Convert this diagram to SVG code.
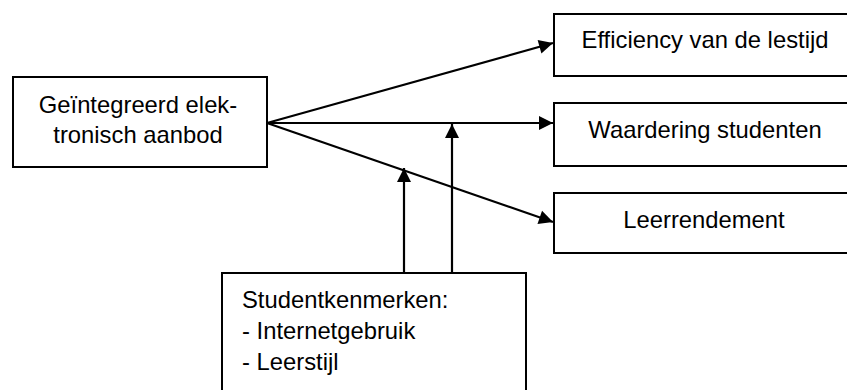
<svg xmlns="http://www.w3.org/2000/svg" width="847" height="390" viewBox="0 0 847 390">
<style>
  .box { fill: #ffffff; stroke: #000000; stroke-width: 2; }
  .lbl { font-family: "Liberation Sans", Arial, sans-serif; font-size: 23.8px; fill: #000000; }
  .mid { text-anchor: middle; }
  .conn { stroke: #000000; stroke-width: 2.2; fill: none; marker-end: url(#arrow); }
</style>
<defs>
  <marker id="arrow" markerUnits="userSpaceOnUse" markerWidth="16" markerHeight="16" viewBox="0 0 16 16" refX="15" refY="8" orient="auto">
    <path d="M1,1 L15,8 L1,15 Z" fill="#000000"/>
  </marker>
</defs>
<rect width="847" height="390" fill="#ffffff"/>
<g id="connectors">
  <line class="conn" x1="267" y1="123" x2="553" y2="43"/>
  <line class="conn" x1="267" y1="123" x2="553" y2="123"/>
  <line class="conn" x1="267" y1="123" x2="553" y2="222"/>
  <line class="conn" x1="404" y1="273" x2="404" y2="168"/>
  <line class="conn" x1="452" y1="273" x2="452" y2="124"/>
</g>
<g id="node-aanbod">
  <rect class="box" x="13" y="77" width="254" height="90"/>
  <text class="lbl mid" x="138" y="113">Geïntegreerd elek-</text>
  <text class="lbl mid" x="138" y="143">tronisch aanbod</text>
</g>
<g id="node-efficiency">
  <rect class="box" x="554" y="14" width="302" height="62"/>
  <text class="lbl mid" x="705" y="48">Efficiency van de lestijd</text>
</g>
<g id="node-waardering">
  <rect class="box" x="554" y="103" width="302" height="63"/>
  <text class="lbl mid" x="705" y="138">Waardering studenten</text>
</g>
<g id="node-leerrendement">
  <rect class="box" x="554" y="193" width="302" height="60"/>
  <text class="lbl mid" x="704" y="228">Leerrendement</text>
</g>
<g id="node-studentkenmerken">
  <rect class="box" x="222" y="273" width="304" height="130"/>
  <text class="lbl" x="242" y="308">Studentkenmerken:</text>
  <text class="lbl" x="242" y="339">- Internetgebruik</text>
  <text class="lbl" x="242" y="370">- Leerstijl</text>
</g>
</svg>
